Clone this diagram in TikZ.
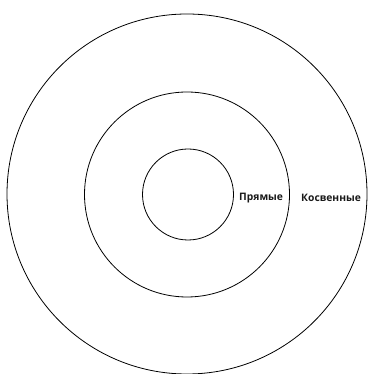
\documentclass[tikz,border=0pt]{standalone}
\usepackage{fontspec}
\setmainfont{Open Sans}
\begin{document}
\begin{tikzpicture}[x=1pt,y=1pt,
  ring/.style={draw=black,line width=0.8pt,circle,minimum size=#1,inner sep=0pt},
  lbl/.style={font=\fontsize{10.3}{12}\selectfont\bfseries,inner sep=0pt,text=black!90}]
\useasboundingbox (0,0) rectangle (367,374);
\node[ring=360pt] (outer) at (187,180) {};
\node[ring=205pt] (middle) at (187,179.5) {};
\node[ring=91pt] (inner) at (188,179.5) {};
\node[lbl,anchor=west] (pr) at (239,176) {Прямые};
\node[lbl,anchor=west] (kos) at (301,176) {Косвенные};
\end{tikzpicture}
\end{document}
